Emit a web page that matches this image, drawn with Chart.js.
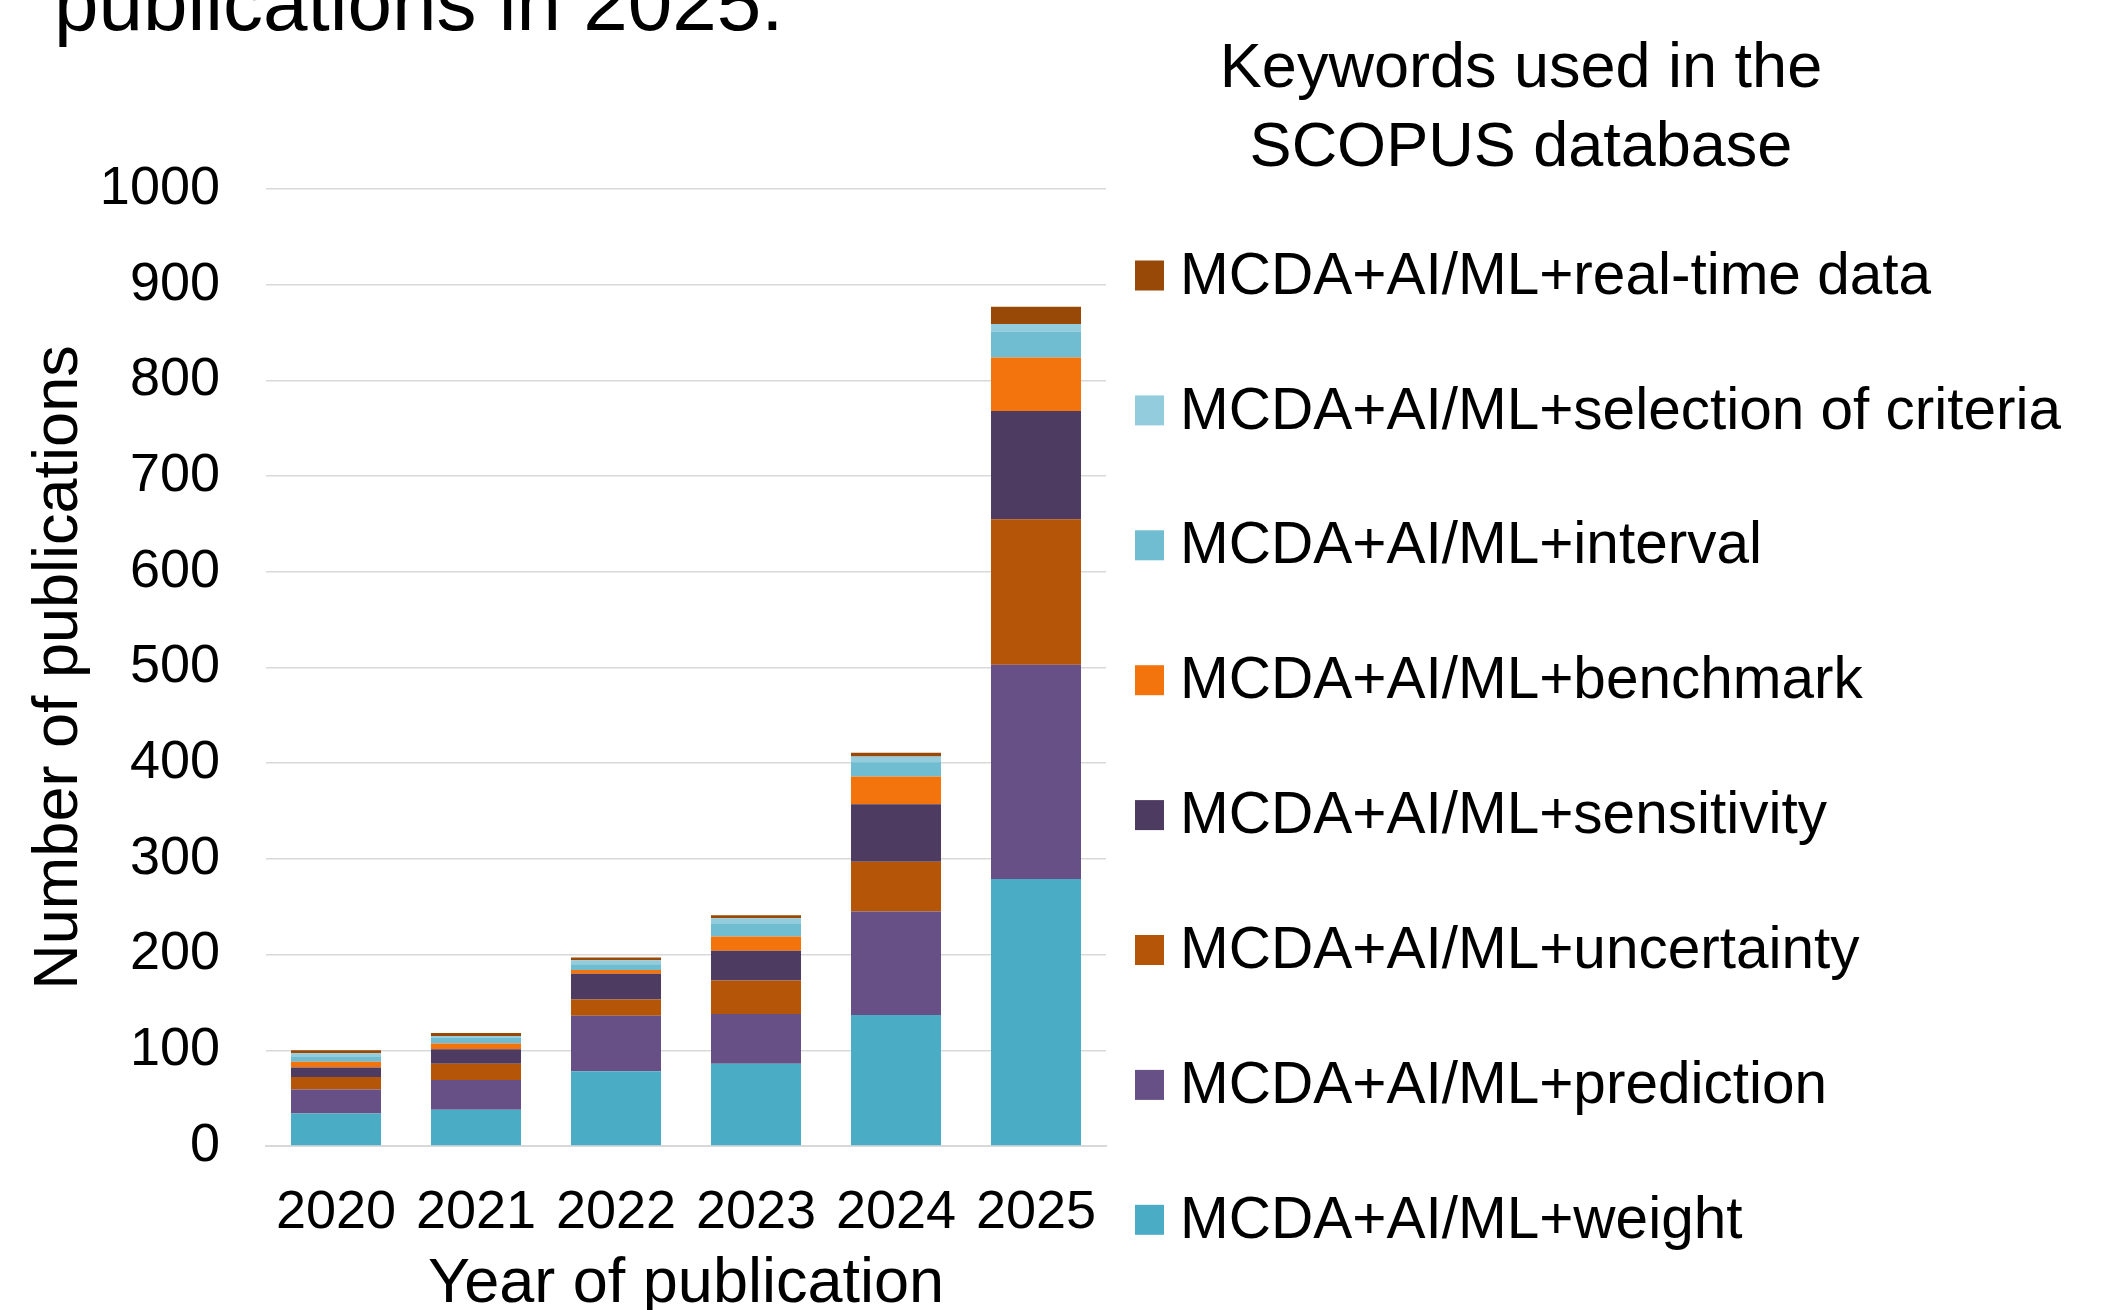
<!DOCTYPE html>
<html lang="en">
<head>
    <meta charset="UTF-8">
    <title>MCDA + AI/ML publications</title>
    <script src="https://cdn.jsdelivr.net/npm/chart.js"></script>
    <style>
        html, body { margin: 0; padding: 0; background: #fff; }
        canvas { display: block; }
    </style>
</head>
<body>
    <canvas id="pub-chart" width="2103" height="1310"></canvas>

    <script>
        // Data (number of publications per year)
        const years = ['2020', '2021', '2022', '2023', '2024', '2025'];
        const weight = [34, 38, 78, 86, 137, 279];
        const prediction = [25, 31, 58, 52, 108, 224];
        const uncertainty = [13, 17, 17, 35, 52, 152];
        const sensitivity = [10, 15, 27, 31, 60, 113];
        const benchmark = [6, 6, 4, 15, 29, 56];
        const interval = [5, 6, 6, 13, 15, 27];
        const selection = [4, 2, 4, 6, 6, 8];
        const realTime = [3, 3, 3, 3, 4, 18];
        const yTicks = [0, 100, 200, 300, 400, 500, 600, 700, 800, 900, 1000];

        const FONT = '"Liberation Sans", Arial, sans-serif';

        // bottom to top of each stack
        const series = [
            { label: 'MCDA+AI/ML+weight', data: weight, color: '#4BACC6' },
            { label: 'MCDA+AI/ML+prediction', data: prediction, color: '#675085' },
            { label: 'MCDA+AI/ML+uncertainty', data: uncertainty, color: '#B55507' },
            { label: 'MCDA+AI/ML+sensitivity', data: sensitivity, color: '#4D3B62' },
            { label: 'MCDA+AI/ML+benchmark', data: benchmark, color: '#F3740D' },
            { label: 'MCDA+AI/ML+interval', data: interval, color: '#70BCD1' },
            { label: 'MCDA+AI/ML+selection of criteria', data: selection, color: '#93CDDD' },
            { label: 'MCDA+AI/ML+real-time data', data: realTime, color: '#984807' }
        ];

        // heading + legend drawn on the canvas
        const extras = {
            id: 'extras',
            afterDraw(chart) {
                const ctx = chart.ctx;
                ctx.save();
                ctx.fillStyle = '#000';
                ctx.textAlign = 'left';
                ctx.textBaseline = 'alphabetic';
                ctx.font = '80px ' + FONT;
                ctx.fillText('publications in 2025.', 54, 30);

                ctx.textAlign = 'center';
                ctx.font = '63px ' + FONT;
                ctx.fillText('Keywords used in the', 1521, 87);
                ctx.fillText('SCOPUS database', 1521, 166);

                ctx.textAlign = 'left';
                ctx.textBaseline = 'middle';
                ctx.font = '58.5px ' + FONT;
                const items = chart.data.datasets.slice().reverse();
                items.forEach((ds, i) => {
                    const cy = 275.5 + i * 134.9;
                    ctx.fillStyle = ds.backgroundColor;
                    ctx.fillRect(1135, cy - 15, 29, 30);
                    ctx.fillStyle = '#000';
                    ctx.fillText(ds.label, 1180, cy + 2);
                });
                ctx.restore();
            }
        };

        const ctx = document.getElementById('pub-chart').getContext('2d');
        new Chart(ctx, {
            type: 'bar',
            data: {
                labels: years,
                datasets: series.map(s => ({
                    label: s.label,
                    data: s.data,
                    backgroundColor: s.color,
                    borderWidth: 0,
                    categoryPercentage: 1,
                    barPercentage: 0.643
                }))
            },
            options: {
                responsive: false,
                animation: false,
                layout: { padding: { top: 189, right: 997, left: 0, bottom: 0 } },
                plugins: {
                    legend: { display: false },
                    tooltip: { enabled: false }
                },
                scales: {
                    x: {
                        stacked: true,
                        afterFit(scale) { scale.height = 164; },
                        grid: { display: false },
                        border: { color: '#D9D9D9', width: 2 },
                        ticks: { color: '#000', font: { family: FONT, size: 54 }, padding: 27, maxRotation: 0 },
                        title: {
                            display: true,
                            text: 'Year of publication',
                            color: '#000',
                            font: { family: FONT, size: 63, lineHeight: 0.8 },
                            padding: 0
                        }
                    },
                    y: {
                        stacked: true,
                        min: 0,
                        max: 1000,
                        afterFit(scale) { scale.width = 266; },
                        afterBuildTicks(scale) { scale.ticks = yTicks.map(v => ({ value: v })); },
                        grid: { color: '#D9D9D9', lineWidth: 1.5, drawTicks: false },
                        border: { display: false },
                        ticks: {
                            color: '#000',
                            font: { family: FONT, size: 54 },
                            padding: 46,
                            callback: v => String(v)
                        },
                        title: {
                            display: true,
                            text: 'Number of publications',
                            color: '#000',
                            font: { family: FONT, size: 63 },
                            padding: { top: 22, bottom: 0 }
                        }
                    }
                }
            },
            plugins: [extras]
        });
    </script>
</body>
</html>
